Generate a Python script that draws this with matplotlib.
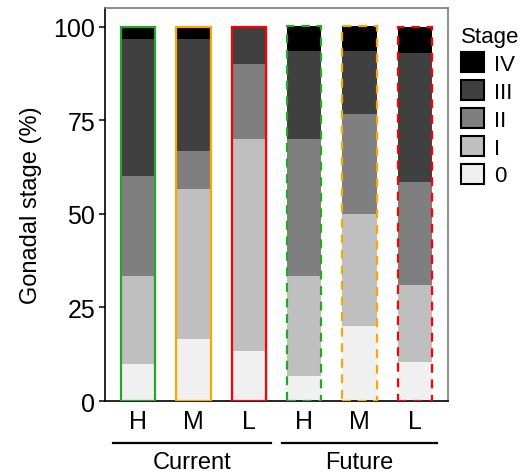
import matplotlib
matplotlib.use("Agg")
import matplotlib.pyplot as plt
import matplotlib.transforms as mtransforms
from matplotlib.patches import Patch
import numpy as np

plt.rcParams['font.family'] = ['Liberation Sans', 'DejaVu Sans']

bars = ["H", "M", "L", "H", "M", "L"]
groups = ["Current", "Future"]
stages = ["0", "I", "II", "III", "IV"]
# percentages per bar (stage 0, I, II, III, IV)
stage0 = [10.0, 16.7, 13.3, 6.7, 20.0, 10.3]
stage1 = [23.3, 40.0, 56.7, 26.7, 30.0, 20.7]
stage2 = [26.7, 10.0, 20.0, 36.7, 26.7, 27.6]
stage3 = [36.7, 30.0, 10.0, 23.3, 16.7, 34.5]
stage4 = [3.3, 3.3, 0.0, 6.7, 6.7, 6.9]

fills = ["#F0F0F0", "#BFBFBF", "#7F7F7F", "#404040", "#000000"]
edge_cols = ["#22A822", "#FFA500", "#FF0000", "#22A822", "#FFA500", "#FF0000"]
styles = ["solid"] * 3 + ["dashed"] * 3

fig = plt.figure(figsize=(5.23, 4.77), dpi=100)
ax = fig.add_axes([0.2008, 0.1572, 0.8566 - 0.2008, 0.9811 - 0.1572])

x = np.arange(1, len(bars) + 1)
w = 0.62
data = [stage0, stage1, stage2, stage3, stage4]
bottom = np.zeros(len(bars))
for vals, col in zip(data, fills):
    vals = np.array(vals)
    ax.bar(x, vals, w, bottom=bottom, color=col, edgecolor="none", zorder=2)
    bottom += vals

totals = bottom
for xi, tot, ec, ls in zip(x, totals, edge_cols, styles):
    b = ax.bar([xi], [tot], w, color="none", edgecolor=ec, linewidth=1.6, zorder=3)
    for p in b:
        if ls == "dashed":
            p.set_linestyle((0, (4, 3)))

ax.set_xlim(0.4, 6.6)
ax.set_ylim(0, 105)
ax.set_yticks([0, 25, 50, 75, 100])
ax.set_xticks(x)
ax.set_xticklabels(bars)
ax.tick_params(axis="x", length=0, pad=6, labelsize=18, colors="black")
ax.tick_params(axis="y", length=4, width=1.1, pad=3, labelsize=18, colors="black")
ax.set_ylabel("Gonadal stage (%)", fontsize=17, labelpad=8)

for s in ["left", "bottom"]:
    ax.spines[s].set_color("black")
    ax.spines[s].set_linewidth(1.2)
for s in ["top", "right"]:
    ax.spines[s].set_color("#7a7a7a")
    ax.spines[s].set_linewidth(1.2)

trans = mtransforms.blended_transform_factory(ax.transData, ax.transAxes)
spans = [(0.55, 3.4), (3.6, 6.4)]
for (a, b), g in zip(spans, groups):
    ax.plot([a, b], [-0.107, -0.107], color="black", lw=1.6, transform=trans, clip_on=False)
    ax.text((a + b) / 2, -0.155, g, transform=trans, ha="center", va="center", fontsize=17)

handles = [Patch(facecolor=fills[i], edgecolor="black", linewidth=1.5, label=stages[i])
           for i in range(len(stages) - 1, -1, -1)]
leg = fig.legend(handles=handles, title="Stage", loc="upper left",
                 bbox_to_anchor=(0.878, 0.948), frameon=False, fontsize=16,
                 title_fontsize=16, handlelength=1.0, handleheight=1.0,
                 handletextpad=0.45, labelspacing=0.24, borderaxespad=0, borderpad=0.1)
leg._legend_box.align = "left"

fig.savefig("out.png", dpi=100)
